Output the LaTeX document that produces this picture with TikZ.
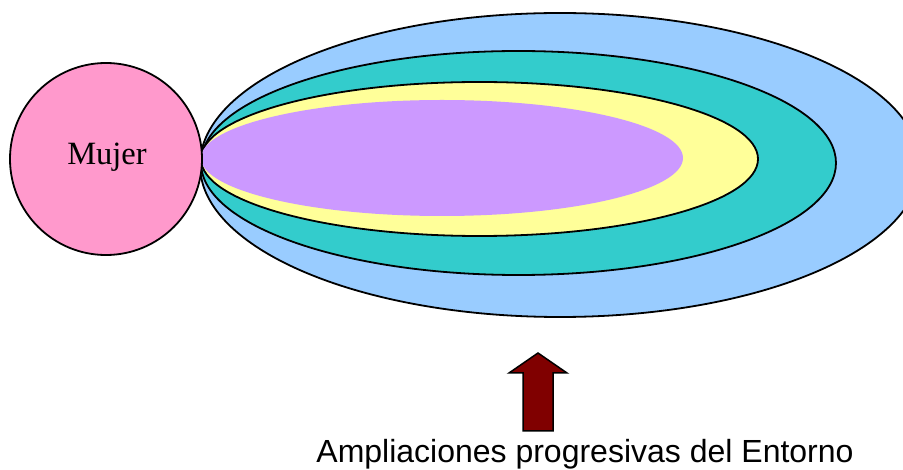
\documentclass[tikz,border=0pt]{standalone}
\usepackage{fontspec}
\setmainfont{Liberation Serif}
\newfontfamily\arialfont{Liberation Sans}
\usetikzlibrary{shapes.geometric}
\definecolor{pinkc}{HTML}{FF99CC}
\definecolor{bluec}{HTML}{99CCFF}
\definecolor{tealc}{HTML}{33CCCC}
\definecolor{yellowc}{HTML}{FFFF99}
\definecolor{purplec}{HTML}{CC99FF}
\definecolor{arrowc}{HTML}{800000}
\tikzset{
  ring/.style={ellipse, draw=black, line width=1.8pt, inner sep=0pt, outer sep=0pt},
}
\begin{document}
\begin{tikzpicture}[x=1pt,y=-1pt]
\useasboundingbox (0,0) rectangle (903,470);
\begin{scope}
\clip (0,0) rectangle (903,470);
\node[ring, fill=bluec, minimum width=720pt, minimum height=304pt] (blue) at (560,165) {};
\node[ring, fill=tealc, minimum width=635pt, minimum height=224pt] (teal) at (518.5,163) {};
\node[ring, fill=yellowc, minimum width=557pt, minimum height=154pt] (yellow) at (479.5,159) {};
\node[ellipse, fill=purplec, inner sep=0pt, minimum width=482pt, minimum height=116pt] (purple) at (442,158) {};
\end{scope}
\node[circle, draw=black, line width=1.8pt, fill=pinkc, minimum size=192pt, inner sep=0pt, outer sep=0pt] (mujer) at (106,159) {};
\node[font=\fontsize{32.5}{36}\selectfont] (mujerlbl) at (107,157) {Mujer};
\draw[fill=arrowc, draw=black, line width=1.5pt, line join=miter]
  (538,353) -- (567,373) -- (553,373) -- (553,431) -- (523,431) -- (523,373) -- (509,373) -- cycle;
\node[font=\arialfont\fontsize{32}{36}\selectfont, anchor=base] (caption) at (585,463) {Ampliaciones progresivas del Entorno};
\end{tikzpicture}
\end{document}
